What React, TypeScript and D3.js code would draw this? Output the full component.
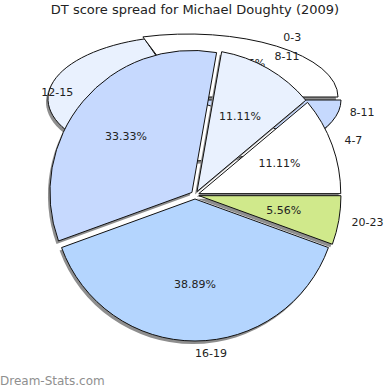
import React from "react";
import * as d3 from "d3";

// Front (main) pie
const frontLabels = ["20-23", "16-19", "12-15", "8-11", "4-7"];
const frontCounts = [1, 7, 6, 2, 2];
const frontColors = ["#d0e98b", "#b4d5fe", "#c6d9fe", "#e9f1fe", "#ffffff"];

// Back (ghost) layer drawn behind the main pie
const backLabels = ["8-11", "4-7", "12-15", "0-3"];
const backValues = [2, 5, 5.625, 5.375];
const backColors = ["#c6d9fe", "#ffffff", "#e9f1fe", "#ffffff"];

const title = "DT score spread for Michael Doughty (2009)";
const watermark = "Dream-Stats.com";

// layout
const W = 390, H = 390;
const C0 = { x: 195, y: 195 };
const R = 142;
const EXPLODE = 4;
const LABEL_R = 159;
const PCT_R = 90;
const SHADOW = { dx: -2, dy: 3, color: "#8e8e8e" };
const FONT = "'DejaVu Sans', Verdana, sans-serif";

const BACK_C = { x: 188, y: 98 };
const backGeom = [
  { rx: 150, ry: 63, dx: 3, dy: 2 },
  { rx: 150, ry: 63, dx: 0, dy: 0 },
  { rx: 138, ry: 63, dx: -2, dy: 1 },
  { rx: 150, ry: 63, dx: 0, dy: -1 },
];
// label placement for back layer (ellipse label radii)
const backLabelGeom = [
  { rx: 172, ry: 44, show: true },
  { rx: 0, ry: 0, show: false },
  { rx: 0, ry: 0, show: false },
  { rx: 161, ry: 74, show: true },
];
const BACK_PCT = { rx: 80, ry: 42, shiftX: 9 };

export default function App() {
  const pie = d3
    .pie<number>()
    .sort(null)
    .value((d) => d)
    .startAngle(Math.PI / 2)
    .endAngle(Math.PI / 2 + 2 * Math.PI);

  const frontArcs = pie(frontCounts);
  const total = d3.sum(frontCounts);
  const arc = d3.arc<d3.PieArcDatum<number>>().innerRadius(0).outerRadius(R);

  const backArcs = pie(backValues);
  const backTotal = d3.sum(backValues);

  const mid = (a: d3.PieArcDatum<number>) => (a.startAngle + a.endAngle) / 2;

  const backSlice = (i: number, shadow: boolean) => {
    const a = backArcs[i];
    const g = backGeom[i];
    const p = d3.arc<d3.PieArcDatum<number>>().innerRadius(0).outerRadius(g.rx)(a) || "";
    const tx = BACK_C.x + g.dx + (shadow ? SHADOW.dx : 0);
    const ty = BACK_C.y + g.dy + (shadow ? SHADOW.dy : 0);
    return (
      <path
        key={(shadow ? "bs" : "b") + i}
        d={p}
        transform={`translate(${tx},${ty}) scale(1,${g.ry / g.rx})`}
        fill={shadow ? SHADOW.color : backColors[i]}
        stroke={shadow ? "none" : "#111"}
        strokeWidth={1}
        vectorEffect="non-scaling-stroke"
      />
    );
  };

  const frontSlice = (i: number, shadow: boolean) => {
    const a = frontArcs[i];
    const m = mid(a);
    const ox = C0.x + EXPLODE * Math.sin(m) + (shadow ? SHADOW.dx : 0);
    const oy = C0.y - EXPLODE * Math.cos(m) + (shadow ? SHADOW.dy : 0);
    return (
      <path
        key={(shadow ? "fs" : "f") + i}
        d={arc(a) || ""}
        transform={`translate(${ox},${oy})`}
        fill={shadow ? SHADOW.color : frontColors[i]}
        stroke={shadow ? "none" : "#111"}
        strokeWidth={1}
      />
    );
  };

  // back percentage label of the 0-3 slice (mostly hidden behind front slice)
  const b03 = backArcs[3];
  const bm = mid(b03);

  return (
    <svg
      width={W}
      height={H}
      style={{ position: "absolute", left: 0, top: 0, background: "#fff" }}
      fontFamily={FONT}
    >
      <rect x={0} y={0} width={W} height={H} fill="#fff" />
      <text x={W / 2} y={14} textAnchor="middle" fontSize={13} fill="#222">
        {title}
      </text>

      {/* back layer */}
      {backArcs.map((_, i) => backSlice(i, true))}
      {backArcs.map((_, i) => backSlice(i, false))}
      <text
        x={BACK_C.x + BACK_PCT.rx * Math.sin(bm) + BACK_PCT.shiftX}
        y={BACK_C.y - BACK_PCT.ry * Math.cos(bm)}
        textAnchor="middle"
        dominantBaseline="middle"
        fontSize={11}
        fill="#222"
      >
        {((backValues[3] / backTotal) * 100).toFixed(2) + "%"}
      </text>
      {backArcs.map((a, i) => {
        const lg = backLabelGeom[i];
        if (!lg.show) return null;
        const m = mid(a);
        const x = BACK_C.x + lg.rx * Math.sin(m);
        const y = BACK_C.y - lg.ry * Math.cos(m);
        return (
          <text
            key={"bl" + i}
            x={x}
            y={y}
            textAnchor={Math.sin(m) >= -0.01 ? "start" : "end"}
            dominantBaseline="middle"
            fontSize={11}
            fill="#222"
          >
            {backLabels[i]}
          </text>
        );
      })}

      {/* front pie */}
      {frontArcs.map((_, i) => frontSlice(i, true))}
      {frontArcs.map((_, i) => frontSlice(i, false))}

      {frontArcs.map((a, i) => {
        const m = mid(a);
        return (
          <text
            key={"p" + i}
            x={C0.x + PCT_R * Math.sin(m)}
            y={C0.y - PCT_R * Math.cos(m)}
            textAnchor="middle"
            dominantBaseline="middle"
            fontSize={11}
            fill="#222"
          >
            {((frontCounts[i] / total) * 100).toFixed(2) + "%"}
          </text>
        );
      })}
      {frontArcs.map((a, i) => {
        const m = mid(a);
        return (
          <text
            key={"l" + i}
            x={C0.x + LABEL_R * Math.sin(m)}
            y={C0.y - LABEL_R * Math.cos(m)}
            textAnchor={Math.sin(m) >= -0.01 ? "start" : "end"}
            dominantBaseline="middle"
            fontSize={11}
            fill="#222"
          >
            {frontLabels[i]}
          </text>
        );
      })}

      <text x={0} y={385} fontSize={12} fill="#8f8f8f">
        {watermark}
      </text>
    </svg>
  );
}
